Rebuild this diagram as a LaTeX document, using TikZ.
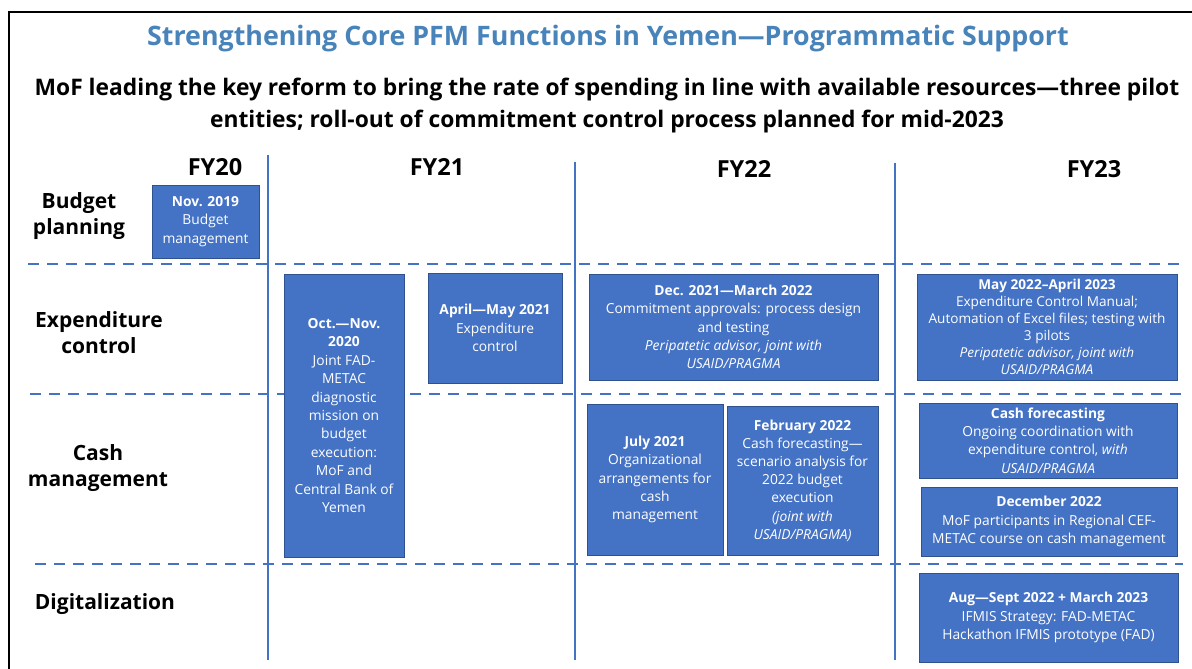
\documentclass[tikz,border=0pt]{standalone}
\usepackage{fontspec}
\setmainfont{Open Sans}
\definecolor{boxblue}{HTML}{4472C4}
\definecolor{boxedge}{HTML}{2F528F}
\definecolor{titleblue}{RGB}{72,132,186}
\begin{document}
\begin{tikzpicture}[x=1pt,y=-1pt,
 ebox/.style={draw=boxedge, line width=0.8pt, fill=boxblue, text=white, align=center, inner sep=0pt, font=\fontsize{13.8}{18.2}\selectfont},
 rowlabel/.style={font=\bfseries\fontsize{21}{26}\selectfont, align=center, text=black},
 yearlabel/.style={font=\bfseries\fontsize{23.5}{26}\selectfont, text=black},
 vline/.style={draw=boxblue, line width=2pt},
 hline/.style={draw=boxblue, line width=2.5pt, dash pattern=on 11pt off 8pt}]
\useasboundingbox (0,0) rectangle (1192,669);
\fill[white] (0,0) rectangle (1192,669);
\draw[line width=2pt] (9,669) -- (9,12) -- (1192,12);

% titles
\node[font=\bfseries\fontsize{26.8}{30}\selectfont, text=titleblue] (title) at (608,39) {Strengthening Core PFM Functions in Yemen—Programmatic Support};
\node[font=\bfseries\fontsize{22.8}{32}\selectfont, align=center] (subtitle) at (607,106) {MoF leading the key reform to bring the rate of spending in line with available resources—three pilot\\entities; roll-out of commitment control process planned for mid-2023};

% years
\node[yearlabel] (fy20) at (215,167) {FY20};
\node[yearlabel] (fy21) at (437,167) {FY21};
\node[yearlabel] (fy22) at (744,169) {FY22};
\node[yearlabel] (fy23) at (1094,169) {FY23};

% row labels
\node[rowlabel] (rbudget) at (79,216) {Budget\\planning};
\node[rowlabel] (rexp) at (99,333) {Expenditure\\control};
\node[rowlabel] (rcash) at (98,468) {Cash\\management};
\node[rowlabel] (rdig) at (105,604) {Digitalization};

% grid lines
\draw[vline] (268,155) -- (268,660);
\draw[vline] (575,162) -- (575,660);
\draw[vline] (895,163) -- (895,660);
\draw[hline] (28,264) -- (1183,264);
\draw[hline] (30,394) -- (1183,394);
\draw[hline] (35,564) -- (1183,564);

% boxes
\node[ebox, minimum width=107pt, minimum height=73pt] (b1) at (205.5,221.5) {\textbf{Nov. 2019}\\Budget\\management};
\node[ebox, minimum width=120pt, minimum height=283pt, font=\fontsize{13.8}{18.4}\selectfont] (b2) at (344,415.5) {\textbf{Oct.—Nov.}\\\textbf{2020}\\Joint FAD-\\METAC\\diagnostic\\mission on\\budget\\execution:\\MoF and\\Central Bank of\\Yemen};
\node[ebox, minimum width=134pt, minimum height=110pt] (b3) at (495,328) {\textbf{April—May 2021}\\Expenditure\\control};
\node[ebox, minimum width=289pt, minimum height=106pt] (b4) at (733.5,327) {\textbf{Dec. 2021—March 2022}\\Commitment approvals: process design\\and testing\\\textit{Peripatetic advisor, joint with}\\\textit{USAID/PRAGMA}};
\node[ebox, minimum width=260pt, minimum height=106pt, font=\fontsize{13.6}{17}\selectfont] (b5) at (1047,327) {\textbf{May 2022–April 2023}\\Expenditure Control Manual;\\Automation of Excel files; testing with\\3 pilots\\\textit{Peripatetic advisor, joint with}\\\textit{USAID/PRAGMA}};
\node[ebox, minimum width=136pt, minimum height=151pt] (b6) at (655,479.5) {\textbf{July 2021}\\Organizational\\arrangements for\\cash\\management};
\node[ebox, minimum width=151pt, minimum height=149pt] (b7) at (802.5,480.5) {\textbf{February 2022}\\Cash forecasting—\\scenario analysis for\\2022 budget\\execution\\\textit{(joint with}\\\textit{USAID/PRAGMA)}};
\node[ebox, minimum width=258pt, minimum height=75pt] (b8) at (1048,440.5) {\textbf{Cash forecasting}\\Ongoing coordination with\\expenditure control, \textit{with}\\\textit{USAID/PRAGMA}};
\node[ebox, minimum width=256pt, minimum height=69pt] (b9) at (1049,521.5) {\textbf{December 2022}\\MoF participants in Regional CEF-\\METAC course on cash management};
\node[ebox, minimum width=259pt, minimum height=89pt] (b10) at (1048.5,617.5) {\textbf{Aug—Sept 2022 + March 2023}\\IFMIS Strategy: FAD-METAC\\Hackathon IFMIS prototype (FAD)};
\end{tikzpicture}
\end{document}
